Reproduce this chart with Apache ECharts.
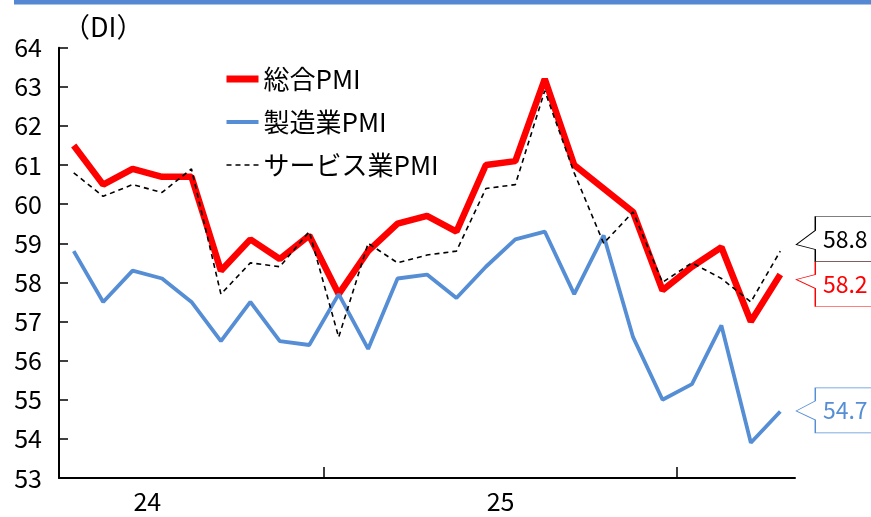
<!DOCTYPE html>
<html>
<head>
<meta charset="utf-8">
<script src="https://cdn.jsdelivr.net/npm/echarts@6/dist/echarts.min.js"></script>
<style>
html, body { margin: 0; padding: 0; background: #fff; }
#main { width: 871px; height: 517px; }
</style>
</head>
<body>
<div id="main"></div>
<script>
// 月次 2024/04 - 2026/04
var months = [
  '2024-04', '2024-05', '2024-06', '2024-07', '2024-08', '2024-09', '2024-10', '2024-11', '2024-12',
  '2025-01', '2025-02', '2025-03', '2025-04', '2025-05', '2025-06', '2025-07', '2025-08', '2025-09',
  '2025-10', '2025-11', '2025-12', '2026-01', '2026-02', '2026-03', '2026-04'
];
var composite = [61.5, 60.5, 60.9, 60.7, 60.7, 58.3, 59.1, 58.6, 59.2, 57.7, 58.8, 59.5, 59.7,
  59.3, 61.0, 61.1, 63.2, 61.0, 60.4, 59.8, 57.8, 58.4, 58.9, 57.0, 58.2];
var manufacturing = [58.8, 57.5, 58.3, 58.1, 57.5, 56.5, 57.5, 56.5, 56.4, 57.7, 56.3, 58.1, 58.2,
  57.6, 58.4, 59.1, 59.3, 57.7, 59.2, 56.6, 55.0, 55.4, 56.9, 53.9, 54.7];
var services = [60.8, 60.2, 60.5, 60.3, 60.9, 57.7, 58.5, 58.4, 59.3, 56.6, 59.0, 58.5, 58.7,
  58.8, 60.4, 60.5, 62.9, 60.8, 59.0, 59.8, 58.0, 58.5, 58.1, 57.5, 58.8];
var seriesNames = ['総合PMI', '製造業PMI', 'サービス業PMI'];

var FONT = '"Noto Sans CJK JP", "Noto Sans", sans-serif';

// 年の区切り（1月）と年ラベル（年の中央）
var yearTicks = [], yearLabelPos = [], yearLabelText = {};
months.forEach(function (m, i) {
  var mo = +m.slice(5);
  var jan = i - (mo - 1);
  if (mo === 1) yearTicks.push(i);
  if (i === 0 || mo === 1) {
    var c = jan + 6;
    if (c >= 0 && c <= months.length) {
      yearLabelPos.push(c);
      yearLabelText[c] = m.slice(2, 4);
    }
  }
});

// 吹き出し（左向き矢印付きの箱）
function callout(t1, tip, t2) {
  return 'path://M19,0L98,0L98,45L19,45L19,' + t2 + 'L0,' + tip + 'L19,' + t1 + 'Z';
}

function endCallout(data, color, shape, dy) {
  var last = data.length - 1;
  return {
    silent: true,
    animation: false,
    symbol: shape,
    symbolSize: [98, 45],
    symbolKeepAspect: false,
    symbolOffset: [65, dy],
    itemStyle: { color: '#fff', borderColor: color, borderWidth: 1 },
    label: {
      show: true,
      position: 'inside',
      color: color,
      fontSize: 23,
      fontFamily: FONT,
      formatter: function (p) { return p.value.toFixed(1); }
    },
    data: [{ coord: [months[last], data[last]], value: data[last] }]
  };
}

var chart = echarts.init(document.getElementById('main'));

var option = {
  animation: false,
  backgroundColor: '#fff',
  textStyle: { fontFamily: FONT },
  title: {
    text: '（DI）',
    left: 58,
    top: 8,
    textStyle: { fontSize: 27, fontWeight: 'normal', color: '#000', fontFamily: FONT }
  },
  graphic: [
    { type: 'rect', left: 14, top: 0, shape: { width: 857, height: 4.5 }, style: { fill: '#5588d2' } }
  ],
  legend: {
    data: [
      { name: seriesNames[0], lineStyle: { width: 7 } },
      { name: seriesNames[1], lineStyle: { width: 4 } },
      { name: seriesNames[2], lineStyle: { width: 1.6 } }
    ],
    orient: 'vertical',
    left: 218,
    top: 61,
    itemWidth: 32,
    itemHeight: 25,
    itemGap: 17,
    itemStyle: { opacity: 0 },
    textStyle: { fontSize: 26, color: '#000', fontFamily: FONT }
  },
  grid: { left: 59, right: 76, top: 47.7, bottom: 39, containLabel: false },
  xAxis: [
    {
      type: 'category',
      data: months,
      boundaryGap: true,
      axisLine: { lineStyle: { color: '#000', width: 2 } },
      axisTick: { show: false },
      axisLabel: { show: false },
      splitLine: { show: false }
    },
    {
      type: 'value',
      position: 'bottom',
      min: 0,
      max: months.length,
      axisLine: { show: false },
      splitLine: { show: false },
      axisTick: {
        show: true,
        inside: true,
        length: 11,
        customValues: yearTicks,
        lineStyle: { color: '#000', width: 1.5 }
      },
      axisLabel: {
        show: true,
        customValues: yearLabelPos,
        margin: 11,
        fontSize: 25,
        color: '#000',
        fontFamily: FONT,
        formatter: function (v) { return yearLabelText[v] || ''; }
      }
    }
  ],
  yAxis: {
    type: 'value',
    min: 53,
    max: 64,
    interval: 1,
    axisLine: { show: true, lineStyle: { color: '#000', width: 2 } },
    axisTick: { show: true, inside: true, length: 9, lineStyle: { color: '#000', width: 1.5 } },
    axisLabel: { fontSize: 25, color: '#000', margin: 17, fontFamily: FONT },
    splitLine: { show: false }
  },
  series: [
    {
      name: seriesNames[0],
      type: 'line',
      data: composite,
      symbol: 'none',
      lineStyle: { color: '#ff0000', width: 6.5 },
      itemStyle: { color: '#ff0000' },
      markPoint: endCallout(composite, '#ff0000', callout(13, 18, 27), 9.4)
    },
    {
      name: seriesNames[1],
      type: 'line',
      data: manufacturing,
      symbol: 'none',
      lineStyle: { color: '#558ed5', width: 3.8 },
      itemStyle: { color: '#558ed5' },
      markPoint: endCallout(manufacturing, '#558ed5', callout(13, 23, 32), -1.1)
    },
    {
      name: seriesNames[2],
      type: 'line',
      data: services,
      symbol: 'none',
      lineStyle: { color: '#000', width: 1.6, type: [5, 4] },
      itemStyle: { color: '#000' },
      markPoint: endCallout(services, '#000', callout(14, 28, 33), -12.1)
    }
  ]
};

chart.setOption(option);
</script>
</body>
</html>
